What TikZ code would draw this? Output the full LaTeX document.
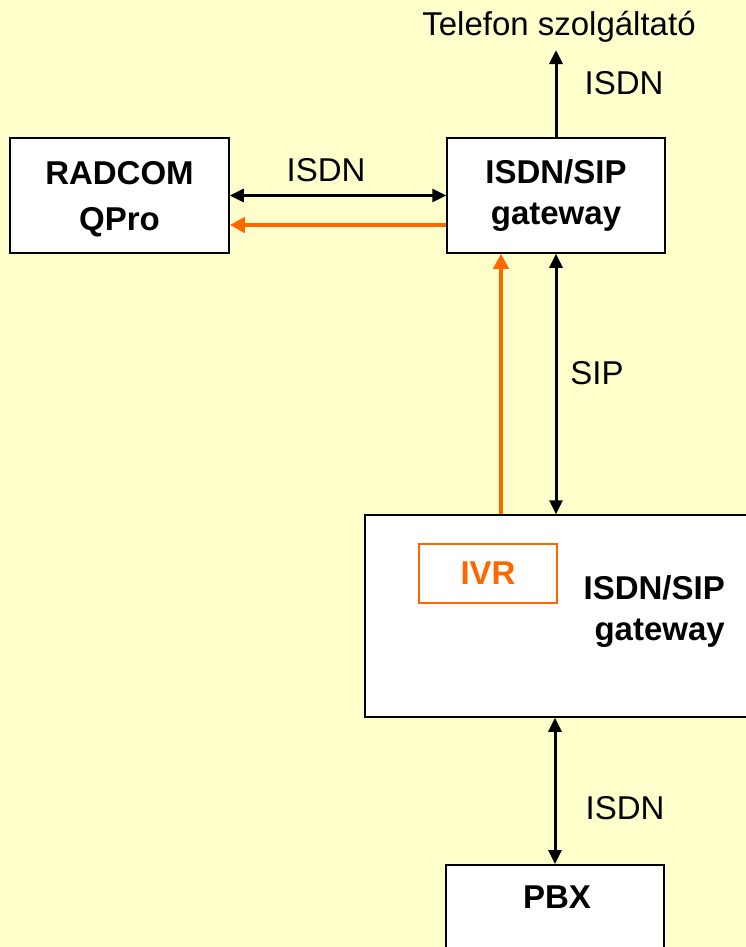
\documentclass[tikz,border=0pt]{standalone}
\usepackage{fontspec}
\setmainfont{Liberation Sans}
\usetikzlibrary{arrows.meta,calc}
\definecolor{bgyellow}{HTML}{FFFFCC}
\definecolor{ivrorange}{HTML}{FF6600}
\begin{document}
\begin{tikzpicture}[x=1pt,y=-1pt,
  boxnode/.style={draw=black, line width=1.5pt, fill=white, rectangle, inner sep=0pt,
    font=\fontsize{33}{46}\selectfont\bfseries, align=center},
  boldtext/.style={inner sep=0pt, font=\fontsize{33}{41}\selectfont\bfseries},
  lbl/.style={font=\fontsize{33}{40}\selectfont, inner sep=0pt},
  darr/.style={line width=3pt, {Triangle[length=14pt,width=13pt]}-{Triangle[length=14pt,width=13pt]}},
  sarr/.style={line width=3pt, -{Triangle[length=14pt,width=13pt]}},
  oarr/.style={draw=ivrorange, line width=4.5pt, -{Triangle[length=15pt,width=15pt]}},
]
\useasboundingbox (0,0) rectangle (746,947);
\clip (0,0) rectangle (746,947);
\fill[bgyellow] (0,0) rectangle (746,947);

\node[boxnode, minimum width=219pt, minimum height=115pt] (radcom) at (119.5,195.5) {};
\node[boxnode, draw=none, fill=none] (radcomt) at (119.5,199) {RADCOM\\QPro};
\node[boxnode, font=\fontsize{33}{41}\selectfont\bfseries, minimum width=218pt, minimum height=115pt] (gw1) at (556,195.5) {ISDN/SIP\\gateway};
\node[boxnode, minimum width=440pt, minimum height=202pt] (gw2) at (585,616) {};
\node[boxnode, draw=ivrorange, text=ivrorange, minimum width=138pt, minimum height=59pt] (ivr) at (488,573.5) {IVR};
\node[boldtext, align=right, anchor=east] (gw2t) at (725,612) {ISDN/SIP\\gateway};
\node[boxnode, minimum width=218pt, minimum height=150pt, anchor=north] (pbx) at (555,864) {};
\node[boldtext] (pbxt) at (557,897) {PBX};

\node[lbl, anchor=base] (tel) at (559,36) {Telefon szolgáltató};
\node[lbl] (l1) at (624,83) {ISDN};
\node[lbl] (l2) at (326,170) {ISDN};
\node[lbl] (l3) at (597,373) {SIP};
\node[lbl] (l4) at (625,808) {ISDN};

\draw[sarr, shorten >=7pt] (gw1.north) -- (gw1.north |- tel.south);
\draw[darr] (radcom.east) -- (gw1.west);
\draw[oarr] ($(gw1.west)+(0,29.5)$) -- ($(radcom.east)+(0,29.5)$);
\draw[oarr] ($(gw2.north -| gw1.south)+(-55,0)$) -- ($(gw1.south)+(-55,0)$);
\draw[darr] (gw1.south) -- (gw1.south |- gw2.north);
\draw[darr] (pbx.north) -- (pbx.north |- gw2.south);
\end{tikzpicture}
\end{document}
